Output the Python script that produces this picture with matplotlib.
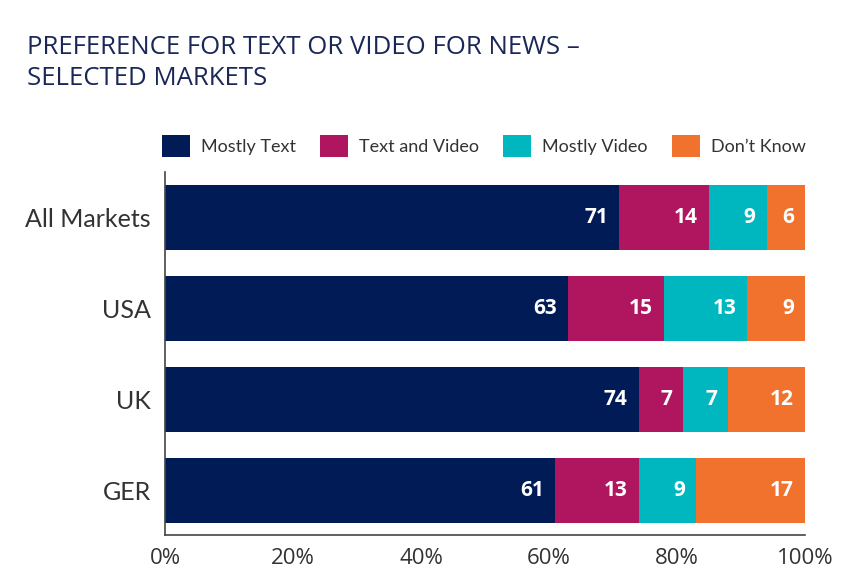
import numpy as np
import matplotlib.pyplot as plt
from matplotlib.patches import Patch

# Data
markets = ["All Markets", "USA", "UK", "GER"]
categories = ["Mostly Text", "Text and Video", "Mostly Video", "Don\u2019t Know"]
mostly_text = [71, 63, 74, 61]
text_and_video = [14, 15, 7, 13]
mostly_video = [9, 13, 7, 9]
dont_know = [6, 9, 12, 17]
xticks = [0, 20, 40, 60, 80, 100]

colors = ["#001b55", "#b0155f", "#00b7c0", "#f1722d"]
navy = "#1a2757"

plt.rcParams['font.family'] = ['Open Sans', 'DejaVu Sans']

fig = plt.figure(figsize=(8.58, 5.82), dpi=100)
ax = fig.add_axes([165 / 858, 47 / 582, 640 / 858, 363 / 582])

series = [mostly_text, text_and_video, mostly_video, dont_know]
y = np.arange(len(markets))
left = np.zeros(len(markets))
for vals, col in zip(series, colors):
    vals = np.array(vals, dtype=float)
    ax.barh(y, vals, left=left, height=0.71, color=col, edgecolor='none')
    for yi, l, v in zip(y, left, vals):
        ax.annotate(str(int(v)), xy=(l + v, yi), xytext=(-11, 0),
                    textcoords='offset pixels',
                    ha='right', va='center', color='white',
                    fontsize=15, fontweight='bold')
    left += vals

ax.set_xlim(0, 100)
ax.set_ylim(3.49, -0.5)
ax.set_yticks(y)
ax.set_yticklabels(markets, fontsize=18, color='#333333', family=['Lato', 'DejaVu Sans'])
ax.set_xticks(xticks)
ax.set_xticklabels([f"{t}%" for t in xticks], fontsize=16, color='#333333')
ax.tick_params(axis='both', length=0)
ax.tick_params(axis='x', pad=9)
ax.tick_params(axis='y', pad=10)
for s in ['top', 'right']:
    ax.spines[s].set_visible(False)
for s in ['left', 'bottom']:
    ax.spines[s].set_color('#444444')
    ax.spines[s].set_linewidth(1.2)

handles = [Patch(facecolor=c, edgecolor='none') for c in colors]
fig.legend(handles, categories, ncol=4, loc='center left',
           bbox_to_anchor=(162 / 858, 1 - 146 / 582), frameon=False,
           prop={'family': ['Lato', 'DejaVu Sans'], 'size': 13},
           handlelength=1.55, handleheight=1.55,
           handletextpad=0.6, columnspacing=1.35, borderpad=0,
           borderaxespad=0, labelcolor='#333333')

fig.text(27 / 858, 1 - 35 / 582,
         "PREFERENCE FOR TEXT OR VIDEO FOR NEWS \u2013\nSELECTED MARKETS",
         ha='left', va='top', fontsize=18.5, color=navy, linespacing=1.3)

fig.savefig("out.png", dpi=100)
